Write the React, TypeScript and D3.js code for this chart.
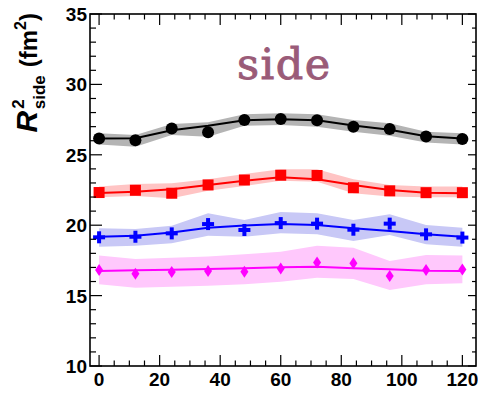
import React from "react";
import * as d3 from "d3";

// kT values (MeV/c) at which each point is measured
const kT = [0, 12, 24, 36, 48, 60, 72, 84, 96, 108, 120];

// Four centrality classes: measured points, smooth fit, systematic band
const blackPts = [26.15, 26.03, 26.86, 26.6, 27.47, 27.54, 27.46, 27.0, 26.83, 26.3, 26.12];
const blackFit = [26.15, 26.17, 26.74, 27.06, 27.46, 27.53, 27.46, 27.08, 26.78, 26.31, 26.15];
const blackHi = [26.53, 26.41, 27.19, 27.31, 27.88, 27.95, 27.88, 27.47, 27.24, 26.64, 26.53];
const blackLo = [25.74, 25.58, 26.41, 26.29, 27.07, 27.12, 27.0, 26.64, 26.36, 25.88, 25.74];

const redPts = [22.32, 22.48, 22.27, 22.86, 23.21, 23.55, 23.53, 22.66, 22.44, 22.31, 22.31];
const redFit = [22.28, 22.38, 22.55, 22.86, 23.16, 23.4, 23.26, 22.86, 22.5, 22.31, 22.27];
const redHi = [22.74, 22.93, 22.98, 23.26, 23.64, 23.97, 23.97, 23.26, 22.86, 22.74, 22.74];
const redLo = [21.98, 22.07, 21.91, 22.45, 22.78, 23.16, 23.09, 22.27, 22.03, 21.98, 21.98];

const bluePts = [19.14, 19.18, 19.42, 20.08, 19.66, 20.15, 20.11, 19.68, 20.11, 19.35, 19.12];
const blueFit = [19.18, 19.25, 19.49, 19.82, 19.97, 20.08, 20.02, 19.78, 19.58, 19.35, 19.18];
const blueHi = [19.78, 19.73, 19.96, 20.84, 20.37, 20.94, 20.84, 20.37, 20.77, 20.01, 19.82];
const blueLo = [18.47, 18.54, 18.71, 19.25, 19.18, 19.42, 19.35, 18.88, 19.3, 18.64, 18.47];

const magPts = [16.82, 16.55, 16.68, 16.74, 16.7, 16.92, 17.35, 17.3, 16.4, 16.82, 16.85];
const magFit = [16.75, 16.8, 16.84, 16.89, 16.94, 17.01, 17.05, 16.94, 16.87, 16.77, 16.75];
const magHi = [17.84, 17.6, 17.69, 17.77, 17.93, 18.12, 18.54, 18.4, 17.46, 17.88, 17.84];
const magLo = [15.8, 15.56, 15.63, 15.7, 15.8, 15.99, 16.27, 16.18, 15.4, 15.8, 15.87];

const xTickLabels = [0, 20, 40, 60, 80, 100, 120];
const yTickLabels = [10, 15, 20, 25, 30, 35];

type Series = {
  pts: number[];
  fit: number[];
  hi: number[];
  lo: number[];
  color: string;
  band: string;
  marker: "circle" | "square" | "cross" | "diamond";
};

const series: Series[] = [
  { pts: blackPts, fit: blackFit, hi: blackHi, lo: blackLo, color: "#000000", band: "#b4b4b4", marker: "circle" },
  { pts: redPts, fit: redFit, hi: redHi, lo: redLo, color: "#ff0000", band: "#ffc4c4", marker: "square" },
  { pts: bluePts, fit: blueFit, hi: blueHi, lo: blueLo, color: "#0000ff", band: "#c8c8f6", marker: "cross" },
  { pts: magPts, fit: magFit, hi: magHi, lo: magLo, color: "#ff00ff", band: "#ffc8fc", marker: "diamond" },
];

const W = 478;
const H = 393;
const left = 90;
const right = 476;
const top = 14;
const bottom = 366;

const x = d3.scaleLinear().domain([-3, 124.5]).range([left, right]);
const y = d3.scaleLinear().domain([10, 35]).range([bottom, top]);

function Marker({ kind, cx, cy, color }: { kind: Series["marker"]; cx: number; cy: number; color: string }) {
  if (kind === "circle") return <circle cx={cx} cy={cy} r={6} fill={color} />;
  if (kind === "square") return <rect x={cx - 5.5} y={cy - 5.5} width={11} height={11} fill={color} />;
  if (kind === "cross")
    return (
      <g fill={color}>
        <rect x={cx - 6} y={cy - 2} width={12} height={4} />
        <rect x={cx - 2} y={cy - 6} width={4} height={12} />
      </g>
    );
  return <path d={`M${cx},${cy - 6}L${cx + 4},${cy}L${cx},${cy + 6}L${cx - 4},${cy}Z`} fill={color} />;
}

export default function App() {
  const line = d3
    .line<number>()
    .x((_, i) => x(kT[i]))
    .y((d) => y(d));

  const bandPath = (s: Series) =>
    d3
      .area<number>()
      .x((_, i) => x(kT[i]))
      .y0((_, i) => y(s.lo[i]))
      .y1((_, i) => y(s.hi[i]))(s.hi) as string;

  const xMinor = d3.range(0, 125, 5);
  const yMinor = d3.range(10, 35.01, 1);
  const font = "'Liberation Sans', Arial, Helvetica, sans-serif";

  return (
    <svg
      width={W}
      height={H}
      style={{ position: "fixed", left: 0, top: 0, background: "#fff" }}
      fontFamily={font}
    >
      <rect width={W} height={H} fill="#fff" />

      {series.map((s, k) => (
        <path key={`band${k}`} d={bandPath(s)} fill={s.band} />
      ))}
      {series.map((s, k) => (
        <path key={`fit${k}`} d={line(s.fit) as string} fill="none" stroke={s.color} strokeWidth={2} />
      ))}
      {series.map((s, k) => (
        <g key={`pts${k}`}>
          {s.pts.map((v, i) => (
            <Marker key={i} kind={s.marker} cx={x(kT[i])} cy={y(v)} color={s.color} />
          ))}
        </g>
      ))}

      {/* frame */}
      <rect x={left} y={top} width={right - left} height={bottom - top} fill="none" stroke="#000" strokeWidth={1.6} />

      {/* x ticks (bottom and top) */}
      {xMinor.map((v) => {
        const major = v % 20 === 0;
        const len = major ? 11 : 5.5;
        return (
          <g key={`xt${v}`} stroke="#000" strokeWidth={1.2}>
            <line x1={x(v)} x2={x(v)} y1={bottom} y2={bottom - len} />
            <line x1={x(v)} x2={x(v)} y1={top} y2={top + len} />
          </g>
        );
      })}
      {/* y ticks (left and right) */}
      {yMinor.map((v) => {
        const major = v % 5 === 0;
        return (
          <g key={`yt${v}`} stroke="#000" strokeWidth={1.2}>
            <line x1={left} x2={left + (major ? 12 : 6)} y1={y(v)} y2={y(v)} />
            <line x1={right} x2={right - (major ? 8 : 4)} y1={y(v)} y2={y(v)} />
          </g>
        );
      })}

      {xTickLabels.map((v) => (
        <text key={`xl${v}`} x={x(v)} y={386} textAnchor="middle" fontSize={19} fontWeight="bold">
          {v}
        </text>
      ))}
      {yTickLabels.map((v) => (
        <text key={`yl${v}`} x={87} y={y(v) + 7} textAnchor="end" fontSize={19} fontWeight="bold">
          {v}
        </text>
      ))}

      {/* y-axis title */}
      <text transform={`translate(37,13) rotate(-90)`} textAnchor="end" fontWeight="bold" fontSize={24}>
        <tspan fontStyle="italic" fontSize={30}>R</tspan>
        <tspan fontSize={17} dy={-13} dx={2}>2</tspan>
        <tspan fontSize={17} dy={21} dx={-10}>side</tspan>
        <tspan dy={-8} dx={8}>(fm</tspan>
        <tspan fontSize={16} dy={-11}>2</tspan>
        <tspan dy={11}>)</tspan>
      </text>

      <text
        x={237}
        y={79}
        fontFamily="'DejaVu Serif', serif"
        fontSize={43}
        letterSpacing={1.5}
        fill="#9a5b78"
        stroke="#9a5b78"
        strokeWidth={0.9}
      >
        side
      </text>
    </svg>
  );
}
